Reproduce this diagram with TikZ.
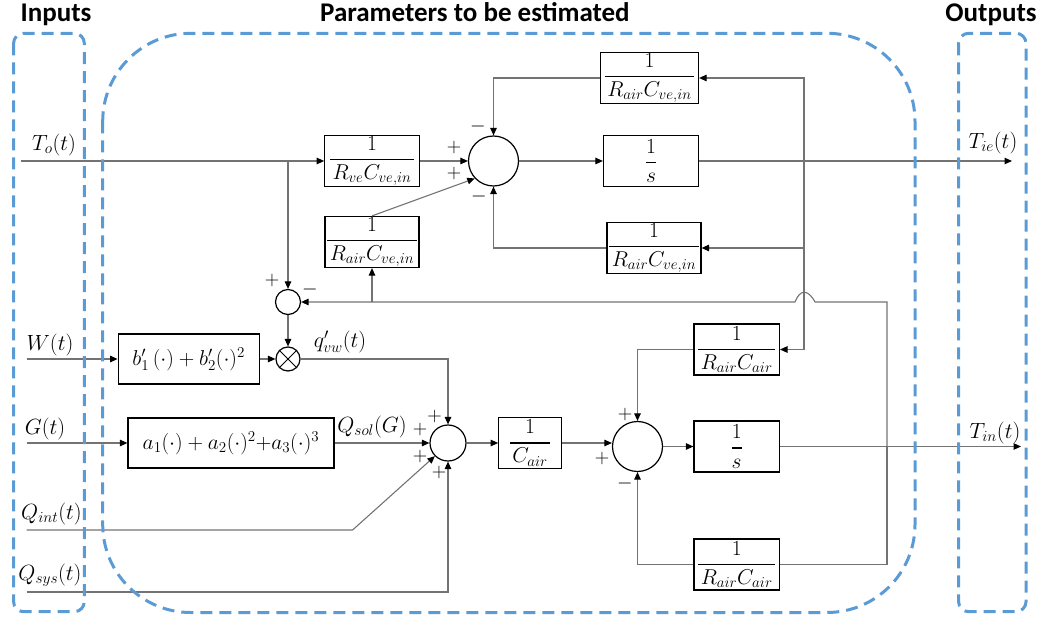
\RequirePackage{fix-cm}
\documentclass[tikz,border=0pt]{standalone}
\usepackage{amsmath}
\usepackage{fontspec}
\newfontfamily\hdrfont{Carlito}
\usetikzlibrary{arrows.meta}
\definecolor{dashblue}{RGB}{91,155,213}
\definecolor{wirec}{RGB}{115,115,115}
\newcommand{\bfr}[2]{\genfrac{}{}{1.4pt}{0}{#1}{\mkern2mu#2\mkern2mu}}
\newcommand{\sfr}[2]{\genfrac{}{}{1.4pt}{0}{#1}{#2}}
\begin{document}
\begin{tikzpicture}[x=1pt,y=-1pt,
  font=\fontsize{22}{26}\selectfont,
  blk/.style={draw=black,line width=1.2pt,inner sep=0pt,fill=white,font=\fontsize{21.5}{25}\selectfont},
  sumc/.style={draw=black,line width=1.2pt,circle,inner sep=0pt,minimum size=#1},
  wire/.style={draw=wirec,line width=1.1pt},
  arr/.style={wire,-{Triangle[length=7.5pt,width=6.5pt,color=black]}},
  grp/.style={draw=dashblue,line width=3pt,dash pattern=on 12pt off 7pt},
  sgn/.style={font=\fontsize{20}{22}\selectfont,inner sep=0pt},
  lbl/.style={inner sep=0pt},
  hdr/.style={font=\hdrfont\bfseries\fontsize{27}{30}\selectfont,inner sep=0pt,anchor=base}
]
\useasboundingbox (0,0) rectangle (1053,620);

% headers
\node[hdr] (hin) at (56,22) {Inputs};
\node[hdr] (hpar) at (475,22) {Parameters to be estimated};
\node[hdr] (hout) at (991,22) {Outputs};

% blocks
\node[blk,minimum width=94.5pt,minimum height=51.5pt] (bRve) at (372,161) {$\bfr{1}{R_{ve}C_{ve,in}}$};
\node[blk,minimum width=94pt,minimum height=51pt] (bRcvL) at (372,242) {$\bfr{1}{R_{air}C_{ve,in}}$};
\node[blk,minimum width=98pt,minimum height=51pt] (bRcvT) at (649.5,78) {$\bfr{1}{R_{air}C_{ve,in}}$};
\node[blk,minimum width=95pt,minimum height=51pt] (bS1) at (651,161) {$\sfr{1}{s}$};
\node[blk,minimum width=94pt,minimum height=51pt] (bRcvB) at (654,248) {$\bfr{1}{R_{air}C_{ve,in}}$};
\node[blk,minimum width=141pt,minimum height=50pt] (bW) at (188.7,359) {$b'_1\,(\cdot)+b'_2(\cdot)^2$};
\node[blk,minimum width=206pt,minimum height=50pt] (bG) at (231,443) {$a_1(\cdot)+a_2(\cdot)^2{+}a_3(\cdot)^3$};
\node[blk,minimum width=62.5pt,minimum height=51pt] (bCair) at (530,443) {$\bfr{1}{C_{air}}$};
\node[blk,minimum width=85.4pt,minimum height=51pt] (bRcaT) at (736.7,349.5) {$\bfr{1}{R_{air}C_{air}}$};
\node[blk,minimum width=85.4pt,minimum height=51pt] (bS2) at (736.7,446.5) {$\sfr{1}{s}$};
\node[blk,minimum width=85.4pt,minimum height=51pt] (bRcaB) at (736.7,564.5) {$\bfr{1}{R_{air}C_{air}}$};

% summing junctions
\node[sumc=50pt] (c1) at (493.5,161) {};
\node[sumc=25pt] (cs) at (288,302) {};
\node[sumc=24pt] (cm) at (288,359) {};
\draw[line width=0.9pt] (cm.45) -- (cm.225) (cm.135) -- (cm.315);
\node[sumc=36pt] (c2) at (448,443) {};
\node[sumc=50pt] (c3) at (637.5,446.5) {};

% coordinates
\coordinate (inTo) at (21,161);
\coordinate (inW) at (26.5,359);
\coordinate (inG) at (26.5,443);
\coordinate (inQi) at (26.5,530);
\coordinate (inQs) at (26.5,592);
\coordinate (oTie) at (1012,161);
\coordinate (oTin) at (1021,446.5);
\coordinate (j1) at (288,161);
\coordinate (j2) at (804,161);
\coordinate (j3) at (804,248);
\coordinate (j4) at (887,446.5);

% upper loop
\draw[arr] (inTo) -- (bRve.west);
\draw[arr] (j1) -- (cs.north);
\draw[arr] (bRve.east) -- (c1.west);
\draw[arr] (c1.east) -- (bS1.west);
\draw[arr] (bS1.east) -- (oTie);
\draw[arr] (j2) |- (bRcvT.east);
\draw[arr] (j2) |- (bRcaT.east);
\draw[arr] (j3) -- (bRcvB.east);
\draw[arr] (bRcvT.west) -| (c1.north);
\draw[arr] (bRcvB.west) -| (c1.south);
\draw[arr] (bRcvL.north) -- (c1.223);

% feedback from T_in to small junction (with jump)
\draw[arr] (j4) -- (j4 |- cs) -- (815,302) .. controls (808,289) and (800,289) .. (795,302) -- (cs.east);
\draw[arr] (bRcvL.south |- cs) -- (bRcvL.south);
\draw[arr] (cs.south) -- (cm.north);

% W, G, Q lines
\draw[arr] (inW) -- (bW.west);
\draw[arr] (bW.east) -- (cm.west);
\draw[arr] (cm.east) -| (c2.north);
\draw[arr] (inG) -- (bG.west);
\draw[arr] (bG.east) -- (c2.west);
\draw[arr] (inQi) -- (352.6,530) -- (c2.225);
\draw[arr] (inQs) -| (c2.south);

% lower loop
\draw[arr] (c2.east) -- (bCair.west);
\draw[arr] (bCair.east) -- (bCair.east -| c3.west);
\draw[arr] (c3.east) -- (bS2.west);
\draw[arr] (bS2.east) -- (oTin);
\draw[arr] (bRcaT.west) -| (c3.north);
\draw[wire] (j4) |- (bRcaB.east);
\draw[arr] (bRcaB.west) -| (c3.south);

% signs
\node[sgn] (s1) at (454,148) {$+$};
\node[sgn] (s2) at (454,174) {$+$};
\node[sgn] (s3) at (478,127) {$-$};
\node[sgn] (s4) at (479,197) {$-$};
\node[sgn] (s5) at (272,281) {$+$};
\node[sgn] (s6) at (310,290) {$-$};
\node[sgn] (s7) at (434.5,417) {$+$};
\node[sgn] (s8) at (420,430) {$+$};
\node[sgn] (s9) at (420,457) {$+$};
\node[sgn] (s10) at (439,473) {$+$};
\node[sgn] (s11) at (625,415) {$+$};
\node[sgn] (s12) at (602,459) {$+$};
\node[sgn] (s13) at (625,483) {$-$};

% signal labels
\node[lbl] (lTo) at (54,145) {$T_o(t)$};
\node[lbl] (lW) at (50,345) {$W(t)$};
\node[lbl] (lG) at (45,429) {$G(t)$};
\node[lbl] (lQi) at (51.5,514) {$Q_{int}(t)$};
\node[lbl] (lQs) at (50,575) {$Q_{sys}(t)$};
\node[lbl] (lTie) at (993,143) {$T_{ie}(t)$};
\node[lbl] (lTin) at (995,433) {$T_{in}(t)$};
\node[lbl] (lq) at (340,342) {$q'_{vw}(t)$};
\node[lbl] (lQsol) at (372,427) {$Q_{sol}(G)$};

% group frames
\draw[grp,rounded corners=10pt] (13.6,33.3) rectangle (84.3,611.7);
\draw[grp,rounded corners=88pt] (102.7,33.3) rectangle (915,612.5);
\draw[grp,rounded corners=10pt] (958.6,33.3) rectangle (1026,611.7);
\end{tikzpicture}
\end{document}
